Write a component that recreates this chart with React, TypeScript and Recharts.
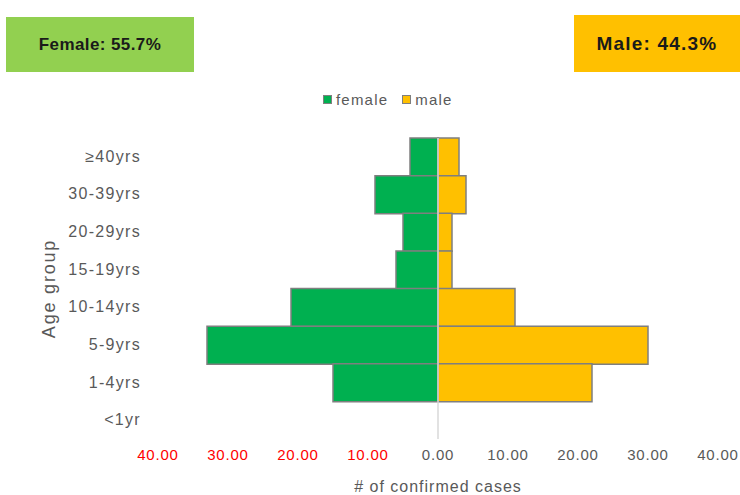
import React from 'react';
import { BarChart, Bar, XAxis, YAxis, ReferenceLine, Legend } from 'recharts';

const ageGroups = ['≥40yrs', '30-39yrs', '20-29yrs', '15-19yrs', '10-14yrs', '5-9yrs', '1-4yrs', '<1yr'];
const femaleCases = [4, 9, 5, 6, 21, 33, 15, 0];
const maleCases = [3, 4, 2, 2, 11, 30, 22, 0];
const xTicks = [-40, -30, -20, -10, 0, 10, 20, 30, 40];
const femaleShare = '55.7%';
const maleShare = '44.3%';

const FEMALE_COLOR = '#00B050';
const MALE_COLOR = '#FFC000';
const FONT = '"Liberation Sans", Arial, sans-serif';

const data = ageGroups.map((g, i) => ({ group: g, female: -femaleCases[i], male: maleCases[i] }));

const XTick = (props: any) => {
  const { x, y, payload } = props;
  const v = payload.value as number;
  return (
    <text x={x} y={y} dy={13} textAnchor="middle" fill={v < 0 ? '#FF0000' : '#595959'}
      fontSize={15} fontFamily={FONT} letterSpacing={0.8}>
      {Math.abs(v).toFixed(2)}
    </text>
  );
};

const YTick = (props: any) => {
  const { x, y, payload } = props;
  return (
    <text x={x} y={y} dy={5} textAnchor="end" fill="#595959" fontSize={16} fontFamily={FONT} letterSpacing={1.3}>
      {payload.value}
    </text>
  );
};

const LegendContent = () => {
  const item = (color: string, label: string) => (
    <span style={{ display: 'inline-flex', alignItems: 'center', marginRight: 14 }}>
      <span style={{ width: 7, height: 7, background: color, border: '1px solid #7f7f7f', marginRight: 4, display: 'inline-block' }} />
      <span style={{ fontSize: 15, color: '#595959', fontFamily: FONT, letterSpacing: 1.2 }}>{label}</span>
    </span>
  );
  return (
    <div style={{ display: 'flex', whiteSpace: 'nowrap' }}>
      {item(FEMALE_COLOR, 'female')}
      {item(MALE_COLOR, 'male')}
    </div>
  );
};

export default function App() {
  return (
    <div style={{ position: 'absolute', left: 0, top: 0, width: 740, height: 495, background: '#fff' }}>
      <div style={{ position: 'absolute', left: 6, top: 17, width: 188, height: 55, background: '#92D050',
        display: 'flex', alignItems: 'center', justifyContent: 'center', fontFamily: FONT, fontWeight: 'bold',
        fontSize: 17, color: '#1a1a1a', letterSpacing: 0.4 }}>
        Female: {femaleShare}
      </div>
      <div style={{ position: 'absolute', left: 574, top: 15, width: 166, height: 57, background: '#FFC000',
        display: 'flex', alignItems: 'center', justifyContent: 'center', fontFamily: FONT, fontWeight: 'bold',
        fontSize: 19, color: '#1a1a1a', letterSpacing: 1.2 }}>
        Male: {maleShare}
      </div>
      <BarChart width={740} height={495} data={data} layout="vertical" stackOffset="sign"
        barCategoryGap={0} margin={{ top: 138, right: 22, bottom: 0, left: 0 }}>
        <XAxis type="number" domain={[-40, 40]} ticks={xTicks} axisLine={false} tickLine={false}
          height={56} tick={<XTick />} interval={0}
          label={{ value: '# of confirmed cases', position: 'insideBottom', offset: 3, fill: '#595959', fontSize: 16, fontFamily: FONT, letterSpacing: 1 } as any} />
        <YAxis type="category" dataKey="group" width={158} axisLine={false} tickLine={false} tickMargin={11}
          tick={<YTick />} interval={0}
          label={{
            content: (p: any) => {
              const vb = p.viewBox || {};
              const cx = 50;
              const cy = (vb.y ?? 138) + (vb.height ?? 301) / 2;
              return (
                <text x={cx} y={cy} transform={`rotate(-90 ${cx} ${cy})`} textAnchor="middle" dominantBaseline="middle"
                  fill="#595959" fontSize={18} fontFamily={FONT} letterSpacing={1.8}>Age group</text>
              );
            },
          } as any} />
        <Legend verticalAlign="middle" align="center" layout="horizontal" content={<LegendContent />}
          wrapperStyle={{ top: 91, left: 323, width: 'auto', height: 20 }} />
        <Bar dataKey="female" name="female" stackId="a" fill={FEMALE_COLOR} stroke="#7f7f7f" strokeWidth={1.5} isAnimationActive={false} />
        <Bar dataKey="male" name="male" stackId="a" fill={MALE_COLOR} stroke="#7f7f7f" strokeWidth={1.5} isAnimationActive={false} />
        <ReferenceLine x={0} stroke="#d9d9d9" strokeWidth={1.5} />
      </BarChart>
    </div>
  );
}
